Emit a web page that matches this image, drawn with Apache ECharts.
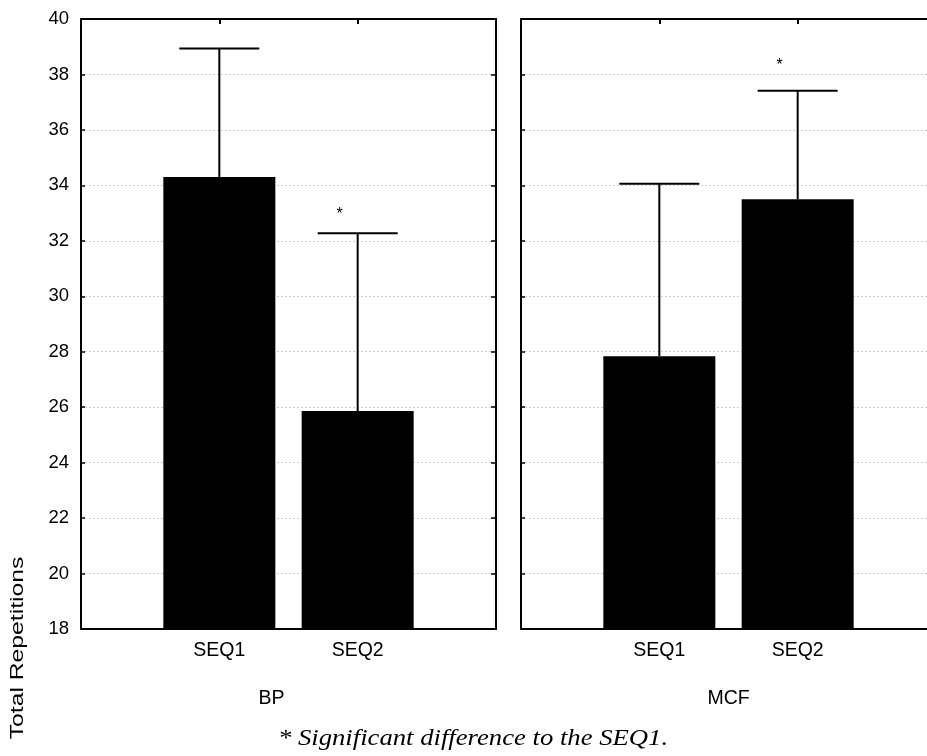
<!DOCTYPE html>
<html>
<head>
<meta charset="utf-8">
<script src="https://cdn.jsdelivr.net/npm/echarts@6/dist/echarts.min.js"></script>
<style>
  html, body { margin: 0; padding: 0; background: #fff; overflow: hidden; }
  /* the right panel runs past the window edge in the original */
  #chart { width: 945px; height: 756px; }
</style>
</head>
<body>
<div id="chart"></div>
<script>
// values
const sequences = ["SEQ1", "SEQ2"];
const groups = ["BP", "MCF"];
const bpMeans = [34.3, 25.86];
const bpUpper = [38.94, 32.27];
const mcfMeans = [27.84, 33.5];
const mcfUpper = [34.06, 37.41];
// where the "*" sits (null = no mark)
const bpStars = [null, 33.05];
const mcfStars = [null, 38.42];
const yMin = 18, yMax = 40, yStep = 2;
const footnote = "* Significant difference to the SEQ1.";

const FONT = "Liberation Sans, Arial, sans-serif";
// pad categories so the two bars sit at 1/3 and 2/3 of each panel
const cats = [""].concat(sequences, [""]);
const pad = (arr) => [null].concat(arr, [null]);

const panels = [
  { name: groups[0], means: bpMeans, upper: bpUpper, stars: bpStars, left: 81, namePad: [0, 34, 0, 0], labels: true },
  { name: groups[1], means: mcfMeans, upper: mcfUpper, stars: mcfStars, left: 521, namePad: 0, labels: false }
];

const grid = [], xAxis = [], yAxis = [], series = [];
const lineStyle = { color: "#000", width: 2 };

panels.forEach((p, i) => {
  grid.push({ left: p.left, top: 19, width: 415, height: 610 });
  // bottom axis with category labels and group name
  xAxis.push({
    type: "category", gridIndex: i, data: cats, boundaryGap: false,
    axisLine: { lineStyle }, axisTick: { show: false },
    axisLabel: { color: "#000", fontSize: 19.5, fontFamily: FONT, margin: 12, interval: 0 },
    name: p.name, nameLocation: "middle", nameGap: 60,
    nameTextStyle: { color: "#000", fontSize: 19.5, fontFamily: FONT, padding: p.namePad }
  });
  // top axis: ticks only
  xAxis.push({
    type: "category", gridIndex: i, data: cats, boundaryGap: false, position: "top",
    axisLine: { lineStyle }, axisTick: { inside: true, length: 5, lineStyle: { width: 2 } },
    axisLabel: { show: false }
  });
  yAxis.push({
    type: "value", gridIndex: i, min: yMin, max: yMax, interval: yStep, position: "left",
    axisLine: { show: true, lineStyle }, axisTick: { show: true, inside: true, length: 4, lineStyle: { width: 1.5 } },
    axisLabel: { show: p.labels, color: "#000", fontSize: 18.5, fontFamily: FONT, margin: 12 },
    splitLine: { show: true, lineStyle: { color: "#cfcfcf", width: 1, type: [2, 2] } }
  });
  yAxis.push({
    type: "value", gridIndex: i, min: yMin, max: yMax, interval: yStep, position: "right",
    axisLine: { show: true, lineStyle }, axisTick: { show: true, inside: true, length: 5, lineStyle: { width: 1.5 } },
    axisLabel: { show: false }, splitLine: { show: false }
  });

  series.push({
    type: "bar", xAxisIndex: i * 2, yAxisIndex: i * 2,
    data: pad(p.means), barWidth: 112, itemStyle: { color: "#000" },
    silent: true, animation: false
  });

  const errData = p.means.map((m, k) => [k + 1, m, p.upper[k], p.stars[k]]);
  series.push({
    type: "custom", xAxisIndex: i * 2, yAxisIndex: i * 2, data: errData, animation: false, silent: true,
    renderItem(params, api) {
      const x = api.value(0);
      const base = api.coord([x, api.value(1)]);
      const top = api.coord([x, api.value(2)]);
      const half = 40;
      const children = [
        { type: "line", shape: { x1: base[0], y1: base[1], x2: top[0], y2: top[1] }, style: { stroke: "#000", lineWidth: 2 } },
        { type: "line", shape: { x1: top[0] - half, y1: top[1], x2: top[0] + half, y2: top[1] }, style: { stroke: "#000", lineWidth: 2 } }
      ];
      const star = api.value(3);
      if (star != null && !isNaN(star)) {
        const s = api.coord([x, star]);
        children.push({
          type: "text",
          style: { text: "*", x: s[0] - 18, y: s[1] + 3, fontSize: 16, fontFamily: FONT, fill: "#000", align: "center", verticalAlign: "middle" }
        });
      }
      return { type: "group", children };
    }
  });
});

const chart = echarts.init(document.getElementById("chart"), null, { renderer: "canvas" });
chart.setOption({
  animation: false,
  grid, xAxis, yAxis, series,
  graphic: [
    {
      type: "text", x: 18, y: 648, rotation: Math.PI / 2, scaleX: 1.3,
      style: { text: "Total Repetitions", fontSize: 19, fontFamily: FONT, fill: "#000", align: "center", verticalAlign: "middle" }
    },
    {
      type: "text", x: 473, y: 739, scaleX: 1.16,
      style: { text: footnote, fontSize: 23, fontStyle: "italic", fontFamily: "Liberation Serif, serif", fill: "#000", align: "center", verticalAlign: "middle" }
    }
  ]
});
window.addEventListener("resize", () => chart.resize());
</script>
</body>
</html>
